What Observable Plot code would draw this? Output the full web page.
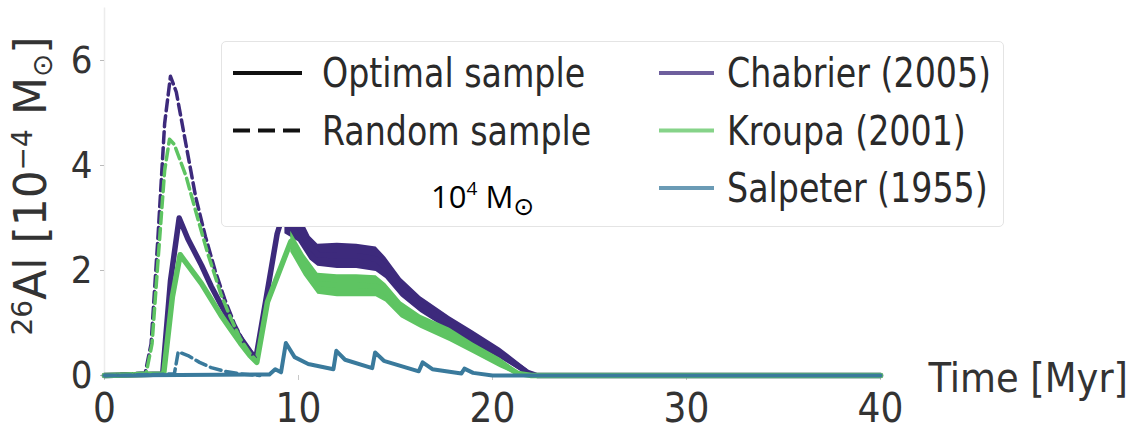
<!DOCTYPE html>
<html>
<head>
<meta charset="utf-8">
<script src="https://cdn.jsdelivr.net/npm/d3@7"></script>
<script src="https://cdn.jsdelivr.net/npm/@observablehq/plot@0.6"></script>
<style>
  body { margin: 0; background: #fff; }
  #wrap { position: relative; width: 1131px; height: 430px; overflow: hidden; background: #fff; }
  #legend { position: absolute; left: 221px; top: 41px; width: 783px; height: 186px;
            background: #fff; border: 1.5px solid #e4e4e4; border-radius: 5px;
            box-sizing: border-box; }
  #legend svg { position: absolute; left: 0; top: 0; }
  #note { position: absolute; left: 209px; top: 133px; font-family: "Open Sans", "Liberation Sans", sans-serif;
          font-size: 31px; color: #000; white-space: nowrap; }
  #note sup { font-size: 19px; vertical-align: 13px; line-height: 0; }
  #note sub { font-size: 25px; vertical-align: -7px; line-height: 0; font-family: "DejaVu Sans", sans-serif; }
</style>
</head>
<body>
<div id="wrap"></div>
<script>
// ---------------- data ----------------
const imfNames = ["Chabrier (2005)", "Kroupa (2001)", "Salpeter (1955)"];
const sampleNames = ["Optimal sample", "Random sample"];
const xTicks = [0, 10, 20, 30, 40];
const yTicks = [0, 2, 4, 6];
const xLabel = "Time [Myr]";
const yLabelParts = [["26", "sup"], ["Al", ""], [" [10", ""], ["−4", "sup"], [" M", ""], ["⊙", "sub"], ["]", ""]];
const massNote = ["10", "4", " M", "⊙"];

// [time Myr, 26Al 1e-4 Msun]
const chabrierOptimal = [[0,0],[3.0,0.03],[3.4,1.8],[3.85,3.0],[4.3,2.6],[5,2.1],[5.5,1.7],[6,1.35],[6.5,1.02],
  [7,0.72],[7.5,0.46],[7.8,0.32],[8.3,1.4],[8.9,2.7],[9.4,3.3],[10.0,2.85],[10.6,2.45],[11,2.3],[12,2.28],
  [13,2.28],[14,2.22],[14.5,2.05],[15.3,1.68],[16.3,1.35],[17.8,0.98],[19,0.72],[20.4,0.42],[21.8,0.06],[22.3,0],[40,0]];
const kroupaOptimal = [[0,0],[3.05,0.03],[3.5,1.5],[3.9,2.3],[4.4,2.05],[5,1.75],[5.5,1.45],[6,1.15],[6.5,0.88],
  [7,0.62],[7.5,0.38],[7.85,0.25],[8.4,1.4],[9.6,2.55],[10.3,2.1],[11,1.75],[12,1.72],[13,1.72],[14,1.7],
  [14.5,1.58],[15.3,1.25],[16.3,1.03],[17.8,0.78],[19,0.52],[20.4,0.24],[21.3,0.04],[22,0],[40,0]];
const salpeterOptimal = [[0,0],[8.5,0.02],[8.8,0.12],[9.1,0.06],[9.35,0.62],[9.8,0.35],[10.5,0.22],[11.8,0.12],
  [11.95,0.47],[12.4,0.3],[13.8,0.14],[13.95,0.44],[14.4,0.28],[16.2,0.08],[16.4,0.25],[16.9,0.12],
  [18.4,0.04],[18.55,0.13],[19,0.05],[20,0],[40,0]];
const chabrierRandom = [[0,0],[2.1,0.05],[2.4,0.6],[2.75,2.6],[3.1,4.8],[3.4,5.7],[3.7,5.4],[4.2,4.4],[4.7,3.4],
  [5.2,2.65],[5.7,2.0],[6.2,1.45],[6.7,0.98],[7.2,0.62],[7.8,0.32]];
const kroupaRandom = [[0,0],[2.15,0.05],[2.45,0.6],[2.8,2.4],[3.1,3.9],[3.35,4.5],[3.6,4.4],[4.2,3.8],[4.8,3.0],
  [5.3,2.35],[6,1.55],[6.5,1.1],[7,0.7],[7.5,0.42],[7.85,0.28]];
const salpeterRandom = [[0,0],[3.6,0.03],[3.8,0.45],[4.3,0.38],[4.9,0.25],[5.5,0.15],[6.2,0.08],[7,0.03],[8,0]];
// visible envelope of the noisy part [time, low, high]
const chabrierBand = [[9.3,2.7,3.5],[10.0,2.55,3.1],[10.6,2.2,2.65],[11,2.08,2.5],[12,2.04,2.52],[13,2.04,2.5],
  [14,1.98,2.45],[14.5,1.85,2.25],[15.3,1.5,1.85],[16.3,1.2,1.5],[17.8,0.85,1.12],[19,0.6,0.85],[20.4,0.32,0.52],[21.8,0.0,0.12]];
const kroupaBand = [[9.6,2.35,2.75],[10.3,1.9,2.3],[11,1.55,1.95],[12,1.5,1.92],[13,1.5,1.92],[14,1.5,1.9],
  [14.5,1.4,1.75],[15.3,1.1,1.4],[16.3,0.9,1.15],[17.8,0.65,0.9],[19,0.42,0.62],[20.4,0.15,0.33],[21.3,0.0,0.08]];

// ---------------- styling ----------------
const imfColor = {"Chabrier (2005)": "#3d2a7c", "Kroupa (2001)": "#5ec462", "Salpeter (1955)": "#3a7a9c"};
const cond = '"DejaVu Sans Condensed", "DejaVu Sans", sans-serif';

const optimal = [chabrierOptimal, kroupaOptimal, salpeterOptimal];
const random = [chabrierRandom, kroupaRandom, salpeterRandom];
const bands = [chabrierBand, kroupaBand];

const marks = [
  Plot.ruleX([0], {stroke: "#ececec", strokeWidth: 1.5}),
  Plot.axisX({ticks: xTicks, tickFormat: d3.format("d"), tickSize: 5, tickPadding: 13, fontSize: 40,
              stroke: "#c8c8c8", fill: "#333", label: null, fontFamily: cond}),
  Plot.axisY({ticks: yTicks, tickFormat: d3.format("d"), tickSize: 4, tickPadding: 8, fontSize: 38,
              stroke: "#bbb", fill: "#333", label: null, fontFamily: cond}),
];
bands.forEach((b, i) => {
  marks.push(Plot.areaY(b, {x: d => d[0], y1: d => d[1], y2: d => d[2], fill: imfColor[imfNames[i]], curve: "linear"}));
});
optimal.forEach((s, i) => {
  marks.push(Plot.line(s, {x: d => d[0], y: d => d[1], stroke: imfColor[imfNames[i]],
    strokeWidth: i === 2 ? 4 : 5.5, strokeLinejoin: "round"}));
});
random.forEach((s, i) => {
  marks.push(Plot.line(s, {x: d => d[0], y: d => d[1], stroke: imfColor[imfNames[i]],
    strokeWidth: 3.5, strokeDasharray: "11,5"}));
});
marks.push(Plot.text([xLabel], {frameAnchor: "bottom-right", dx: 48, dy: 16, textAnchor: "start",
  fontSize: 41, fill: "#333", fontFamily: cond}));

const chart = Plot.plot({
  width: 1131, height: 430,
  marginLeft: 104, marginRight: 251, marginTop: 7.5, marginBottom: 55,
  x: {domain: [0, 40]},
  y: {domain: [0, 7]},
  style: {background: "#fff", overflow: "visible"},
  marks
});
const wrap = document.getElementById("wrap");
wrap.appendChild(chart);

// rotated y-axis label with super/subscripts
const yl = d3.select(chart).append("text")
  .attr("transform", "translate(46,186) rotate(-90)")
  .attr("text-anchor", "middle")
  .attr("font-family", '"DejaVu Sans", sans-serif')
  .attr("font-size", 44)
  .attr("fill", "#333");
let shift = 0;
yLabelParts.forEach(([txt, kind]) => {
  const target = kind === "sup" ? -14 : kind === "sub" ? 6 : 0;
  yl.append("tspan").attr("dy", target - shift).attr("font-size", kind ? 28 : 44).text(txt);
  shift = target;
});

// ---------------- legend ----------------
const legend = document.createElement("div");
legend.id = "legend";
wrap.appendChild(legend);
const lsv = d3.select(legend).append("svg").attr("width", 783).attr("height", 186);
const rowY = i => 31 + i * 57.5;
const addText = (x, y, name) => lsv.append("text")
  .attr("transform", `translate(${x},${y}) scale(1,1.12)`)
  .attr("dominant-baseline", "central")
  .attr("font-family", cond).attr("font-size", 37).attr("fill", "#2a2a2a").text(name);
sampleNames.forEach((name, i) => {
  lsv.append("line").attr("x1", 11).attr("x2", 80).attr("y1", rowY(i)).attr("y2", rowY(i))
    .attr("stroke", "#111").attr("stroke-width", 4)
    .attr("stroke-dasharray", i === 1 ? "17,8" : null);
  addText(100, rowY(i), name);
});
imfNames.forEach((name, i) => {
  lsv.append("line").attr("x1", 437).attr("x2", 492).attr("y1", rowY(i)).attr("y2", rowY(i))
    .attr("stroke", imfColor[name]).attr("stroke-opacity", 0.75).attr("stroke-width", 4);
  addText(505, rowY(i), name);
});
const note = document.createElement("div");
note.id = "note";
note.innerHTML = massNote[0] + "<sup>" + massNote[1] + "</sup>" + massNote[2] + "<sub>" + massNote[3] + "</sub>";
legend.appendChild(note);
</script>
</body>
</html>
